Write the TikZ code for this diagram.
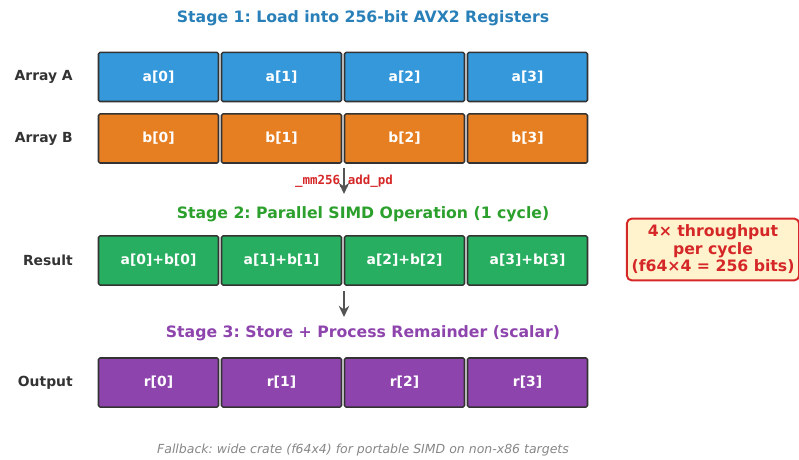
\documentclass[tikz,border=0pt]{standalone}
\usepackage{fontspec}
\usetikzlibrary{arrows.meta}
\setmainfont{DejaVu Sans}
\newfontfamily\codefont{DejaVu Sans Mono}
\frenchspacing
\begin{document}
\begin{tikzpicture}[x=0.72pt, y=-0.72pt, >={Stealth[length=8pt,width=7.5pt]}, font=\fontsize{10}{12}\selectfont, line join=round, line cap=round]
				\definecolor{cell blue}{HTML}{3498DB}
				\definecolor{cell orange}{HTML}{E67E22}
				\definecolor{cell green}{HTML}{27AE60}
				\definecolor{cell purple}{HTML}{8E44AD}
				\definecolor{title blue}{HTML}{2980B9}
				\definecolor{title green}{HTML}{2CA02C}
				\definecolor{note red}{HTML}{D62728}
				\definecolor{note fill}{HTML}{FFF3CD}
				\colorlet{cell edge}{black!80}
				\colorlet{flow gray}{black!67}
				\tikzset{cell/.style={draw=cell edge, line width=1.1pt, rounded corners=1pt, minimum width=86.4pt, minimum height=35.3pt, inner sep=0pt, text=white, font=\bfseries\fontsize{10}{12}\selectfont},
					rowlabel/.style={anchor=east, inner sep=0pt, text=black!80, font=\bfseries\fontsize{10}{12}\selectfont},
					stagetitle/.style={font=\bfseries\fontsize{11.3}{13.5}\selectfont},
					flow/.style={->, draw=flow gray, line width=2.1pt, line cap=butt}}
				\useasboundingbox (0,0) rectangle (799,460);
				% stage 1
				\node[stagetitle, text=title blue] (t1) at (363,18) {Stage 1: Load into 256-bit AVX2 Registers};
				\node[rowlabel] (la) at (73,77) {Array A};
				\node[cell, fill=cell blue] (a0) at (158.5,77) {a[0]};
				\node[cell, fill=cell blue] (a1) at (281.5,77) {a[1]};
				\node[cell, fill=cell blue] (a2) at (404.5,77) {a[2]};
				\node[cell, fill=cell blue] (a3) at (527.5,77) {a[3]};
				\node[rowlabel] (lb) at (73,138.5) {Array B};
				\node[cell, fill=cell orange] (b0) at (158.5,138.5) {b[0]};
				\node[cell, fill=cell orange] (b1) at (281.5,138.5) {b[1]};
				\node[cell, fill=cell orange] (b2) at (404.5,138.5) {b[2]};
				\node[cell, fill=cell orange] (b3) at (527.5,138.5) {b[3]};
				%
				\node[text=note red, font=\codefont\bfseries\fontsize{9}{11}\selectfont] (op) at (344,181) {\_mm256\_add\_pd};
				\coordinate (optop) at (344,168);
				\coordinate (optip) at (344,194);
				\draw[flow] (optop) -- (optip);
				% stage 2
				\node[stagetitle, text=title green] (t2) at (363,214) {Stage 2: Parallel SIMD Operation (1 cycle)};
				\node[rowlabel] (ls) at (73,260.5) {Result};
				\node[cell, fill=cell green] (s0) at (158.5,260.5) {a[0]+b[0]};
				\node[cell, fill=cell green] (s1) at (281.5,260.5) {a[1]+b[1]};
				\node[cell, fill=cell green] (s2) at (404.5,260.5) {a[2]+b[2]};
				\node[cell, fill=cell green] (s3) at (527.5,260.5) {a[3]+b[3]};
				\node[draw=note red, fill=note fill, line width=1.4pt, rounded corners=3.5pt, text=note red, align=center, minimum width=124pt, minimum height=44.5pt, inner sep=2pt, font=\bfseries\fontsize{11.3}{12.6}\selectfont] (gain) at (713,249.5) {4× throughput\\per cycle\\(f64×4 = 256 bits)};
				\coordinate (sttop) at (344,291);
				\coordinate (sttip) at (344,317);
				\draw[flow] (sttop) -- (sttip);
				% stage 3
				\node[stagetitle, text=cell purple] (t3) at (363,333) {Stage 3: Store + Process Remainder (scalar)};
				\node[rowlabel] (lr) at (73,382.5) {Output};
				\node[cell, fill=cell purple] (r0) at (158.5,382.5) {r[0]};
				\node[cell, fill=cell purple] (r1) at (281.5,382.5) {r[1]};
				\node[cell, fill=cell purple] (r2) at (404.5,382.5) {r[2]};
				\node[cell, fill=cell purple] (r3) at (527.5,382.5) {r[3]};
				\node[text=black!47, font=\itshape\fontsize{9}{11}\selectfont] (note) at (363,450) {Fallback: wide crate (f64x4) for portable SIMD on non-x86 targets};
\end{tikzpicture}
\end{document}
